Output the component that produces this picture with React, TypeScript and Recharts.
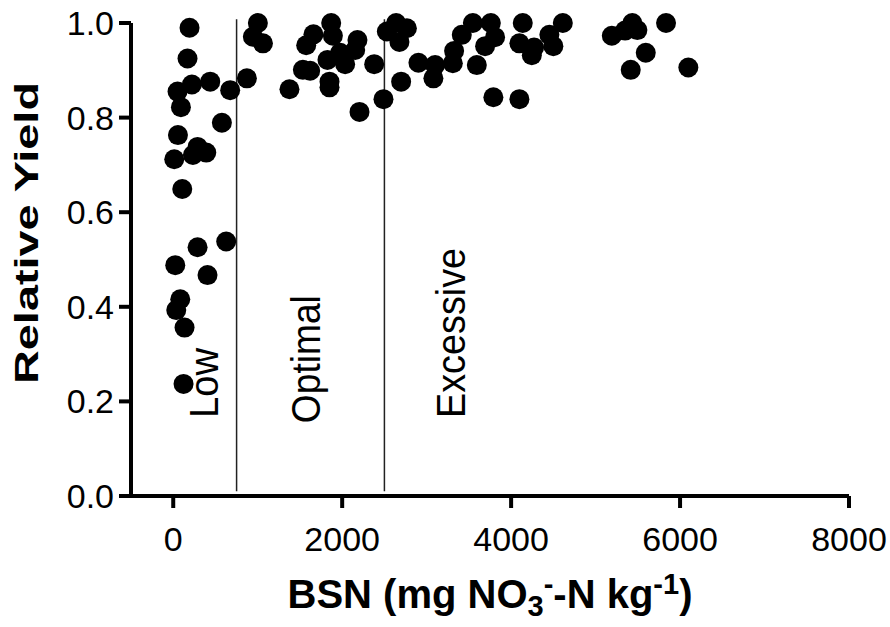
import { ScatterChart, Scatter, XAxis, YAxis, ReferenceLine, ReferenceDot } from 'recharts';

const FONT = "'Liberation Sans', Arial, Helvetica, sans-serif";

// BSN (mg NO3- -N / kg) and relative yield
const bsn = [
  193, 169, 51, 221, 438, 674, 91, 576, 56, 288, 391, 233, 12, 107,
  872, 1002, 943, 1062, 1376, 1535, 1621, 1574, 1660, 1870, 1890, 1826,
  1850, 1850, 1976, 2035, 2181, 2154, 2205, 2379, 2489, 2529,
  627, 288, 24, 406, 83, 36, 134, 122,
  2639, 2766, 2678, 2698, 2903, 3100, 3080, 3310, 3325, 3416, 3547, 3760,
  3810, 3692, 3594, 3790, 4138, 4098, 4245, 4272, 4098, 4453, 4500, 4612,
  5192, 5349, 5435, 5495, 5594, 5416, 5834, 6098,
];
const relYield = [
  0.99, 0.925, 0.855, 0.87, 0.876, 0.858, 0.822, 0.789, 0.763, 0.738, 0.726, 0.721, 0.712, 0.649,
  0.883, 1.0, 0.971, 0.957, 0.86, 0.901, 0.899, 0.953, 0.976, 1.0, 0.973, 0.922,
  0.876, 0.864, 0.937, 0.913, 0.964, 0.943, 0.812, 0.913, 0.839, 0.982,
  0.538, 0.526, 0.488, 0.467, 0.416, 0.393, 0.356, 0.237,
  1.0, 0.989, 0.96, 0.876, 0.916, 0.911, 0.883, 0.915, 0.941, 0.975, 1.0, 1.0,
  0.97, 0.951, 0.911, 0.843, 1.0, 0.957, 0.932, 0.948, 0.839, 0.975, 0.951, 1.0,
  0.973, 0.984, 1.0, 0.985, 0.937, 0.901, 1.0, 0.906,
];

const xTicks = [0, 2000, 4000, 6000, 8000];
const yTicks = [0, 0.2, 0.4, 0.6, 0.8, 1.0];
const zoneBounds = [750, 2500];
const zoneNames = ['Low', 'Optimal', 'Excessive'];

// where each rotated zone name starts (x = baseline, y = text start)
const zoneAnchorX = [533, 1740, 3455];
const zoneAnchorY = [0.165, 0.154, 0.165];
const zoneTextLen = [70, 128, 170];

const points = bsn.map((x, i) => ({ x, y: relYield[i] }));

const Dot = (p: any) => <circle cx={p.cx} cy={p.cy} r={10} fill="#000" />;

const ZoneText = ({ viewBox, text, len }: any) => {
  const x = viewBox.x + viewBox.width / 2;
  const y = viewBox.y + viewBox.height / 2;
  return (
    <text
      x={x}
      y={y}
      transform={`rotate(-90, ${x}, ${y})`}
      fontFamily={FONT}
      fontSize={40}
      fill="#000"
      textLength={len}
      lengthAdjust="spacingAndGlyphs"
    >
      {text}
    </text>
  );
};

const XTitle = ({ viewBox }: any) => {
  const x = viewBox.x + viewBox.width / 2;
  const y = viewBox.y + 112;
  return (
    <text x={x} y={y} textAnchor="middle" fontFamily={FONT} fontWeight="bold" fontSize={40} fill="#000">
      <tspan>BSN (mg NO</tspan>
      <tspan fontSize={29} dy={8}>3</tspan>
      <tspan fontSize={29} dy={-22}>-</tspan>
      <tspan dy={14}>-N kg</tspan>
      <tspan fontSize={29} dy={-14}>-1</tspan>
      <tspan dy={14}>)</tspan>
    </text>
  );
};

const YTitle = ({ viewBox }: any) => {
  const x = 38;
  const y = viewBox.y + 210;
  return (
    <text
      x={x}
      y={y}
      textAnchor="middle"
      transform={`rotate(-90, ${x}, ${y})`}
      fontFamily={FONT}
      fontWeight="bold"
      fontSize={33}
      fill="#000"
      textLength={302}
      lengthAdjust="spacingAndGlyphs"
    >
      Relative Yield
    </text>
  );
};

export default function App() {
  return (
    <div style={{ position: 'absolute', left: 0, top: 0, background: '#fff' }}>
      <ScatterChart width={890} height={627} margin={{ top: 23, right: 41, bottom: 0, left: 0 }}>
        <XAxis
          type="number"
          dataKey="x"
          domain={[-500, 8000]}
          ticks={xTicks}
          height={131}
          axisLine={{ stroke: '#000', strokeWidth: 4 }}
          tickLine={{ stroke: '#000', strokeWidth: 4 }}
          tickSize={12}
          tickMargin={19}
          tick={{ fill: '#000', fontSize: 34, fontFamily: FONT }}
          label={<XTitle />}
        />
        <YAxis
          type="number"
          dataKey="y"
          domain={[0, 1]}
          ticks={yTicks}
          width={131}
          axisLine={{ stroke: '#000', strokeWidth: 4 }}
          tickLine={{ stroke: '#000', strokeWidth: 4 }}
          tickSize={12}
          tickMargin={5}
          tickFormatter={(v: number) => v.toFixed(1)}
          tick={{ fill: '#000', fontSize: 34, fontFamily: FONT }}
          label={<YTitle />}
        />
        {zoneBounds.map((b) => (
          <ReferenceLine
            key={b}
            segment={[{ x: b, y: 0.01 }, { x: b, y: 1.008 }]}
            ifOverflow="visible"
            stroke="#222"
            strokeWidth={1.5}
          />
        ))}
        {zoneNames.map((name, i) => (
          <ReferenceDot
            key={name}
            x={zoneAnchorX[i]}
            y={zoneAnchorY[i]}
            r={1}
            fill="none"
            stroke="none"
            ifOverflow="visible"
            label={<ZoneText text={name} len={zoneTextLen[i]} />}
          />
        ))}
        <Scatter data={points} fill="#000" shape={Dot} isAnimationActive={false} />
      </ScatterChart>
    </div>
  );
}
